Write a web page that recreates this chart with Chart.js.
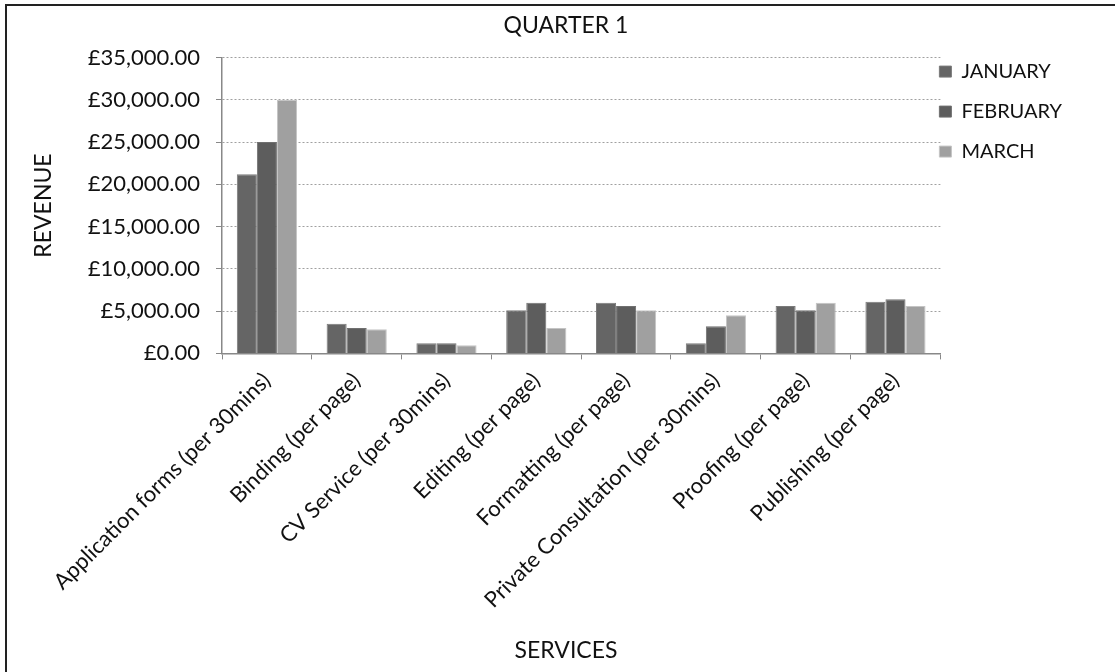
<!DOCTYPE html>
<html>
<head>
<meta charset="utf-8">
<title>Quarter 1</title>
<script src="https://cdn.jsdelivr.net/npm/chart.js@4.4.1/dist/chart.umd.min.js"></script>
<style>
  body { margin: 0; background: #fff; overflow: hidden; }
  #wrap { position: relative; width: 1115px; height: 672px; }
  #frame {
    position: absolute; left: 5px; top: 4px; right: -10px; bottom: -10px;
    border-left: 2px solid #222; border-top: 2px solid #222;
    pointer-events: none;
  }
</style>
</head>
<body>
<div id="wrap">
  <canvas id="quarterChart"></canvas>
  <div id="frame"></div>
</div>
<script>
// --- Data ---
const services = [
  "Application forms (per 30mins)",
  "Binding (per page)",
  "CV Service (per 30mins)",
  "Editing (per page)",
  "Formatting (per page)",
  "Private Consultation (per 30mins)",
  "Proofing (per page)",
  "Publishing (per page)"
];
const months = ["JANUARY", "FEBRUARY", "MARCH"];
const january = [21200, 3500, 1200, 5100, 6000, 1200, 5600, 6100];
const february = [25000, 3000, 1200, 6000, 5600, 3200, 5100, 6400];
const march = [30000, 2850, 950, 3000, 5100, 4500, 6000, 5600];
const yMin = 0, yMax = 35000, yStep = 5000;

const fills = ["#656565", "#5d5d5d", "#a0a0a0"];
const edges = ["#7a7a7a", "#707070", "#c4c4c4"];
const fontName = "Lato, 'Open Sans', sans-serif";

// --- Helpers ---
function formatPounds(v) {
  return "£" + Number(v).toLocaleString("en-GB", {minimumFractionDigits: 2, maximumFractionDigits: 2});
}

// legend sits a little inside the plot like the original
const legendNudge = {
  id: "legendNudge",
  afterLayout(chart) {
    const lg = chart.legend;
    const dx = lg.left - (chart.chartArea.right - 21);
    const dy = lg.top - (chart.chartArea.top - 16);
    lg.left -= dx; lg.right -= dx;
    lg.top -= dy; lg.bottom -= dy;
  }
};

// --- Chart ---
const ctx = document.getElementById("quarterChart").getContext("2d");
new Chart(ctx, {
  type: "bar",
  data: {
    labels: services,
    datasets: [january, february, march].map((vals, i) => ({
      label: months[i],
      data: vals,
      backgroundColor: fills[i],
      borderColor: edges[i],
      borderWidth: 1,
      categoryPercentage: 0.67,
      barPercentage: 1
    }))
  },
  options: {
    responsive: true,
    maintainAspectRatio: false,
    animation: false,
    layout: { padding: { left: 30, top: 4, right: 13, bottom: 4 } },
    plugins: {
      title: {
        display: true,
        text: "QUARTER 1",
        color: "#111",
        font: { family: fontName, size: 23, weight: "normal" },
        padding: { top: 8, bottom: 18 }
      },
      subtitle: {
        display: true,
        position: "bottom",
        text: "SERVICES",
        color: "#111",
        font: { family: fontName, size: 23 },
        padding: { top: 4, bottom: 4 }
      },
      legend: {
        position: "right",
        align: "start",
        labels: {
          color: "#111",
          font: { family: fontName, size: 20 },
          boxWidth: 12,
          boxHeight: 11,
          padding: 20
        }
      },
      tooltip: { enabled: false }
    },
    scales: {
      x: {
        grid: { offset: true, drawOnChartArea: false, tickLength: 6, tickColor: "#888" },
        border: { color: "#888", width: 1.5 },
        ticks: {
          color: "#111",
          font: { family: fontName, size: 22 },
          minRotation: 45,
          maxRotation: 45,
          padding: 8
        },
        afterFit(scale) { scale.height = 672 - 4 - 36 - 353; }
      },
      y: {
        min: yMin,
        max: yMax,
        grid: {
          color: "#a0a0a0",
          tickLength: 6,
          tickColor: "#888",
          tickBorderDash: []
        },
        border: { color: "#888", width: 1.5, dash: [2, 2] },
        ticks: {
          stepSize: yStep,
          color: "#111",
          font: { family: fontName, size: 22 },
          padding: 16,
          callback: v => formatPounds(v)
        },
        title: {
          display: true,
          text: "REVENUE",
          color: "#111",
          font: { family: fontName, size: 23 },
          padding: { top: 0, bottom: 4 }
        },
        afterFit(scale) { scale.width = 222 - 30; }
      },
      // empty right-hand spacer so the plot ends where the original does
      spacer: {
        position: "right",
        display: true,
        grid: { display: false },
        border: { display: false },
        ticks: { display: false },
        afterFit(scale) { scale.width = 9; }
      }
    }
  },
  plugins: [legendNudge]
});
</script>
</body>
</html>
